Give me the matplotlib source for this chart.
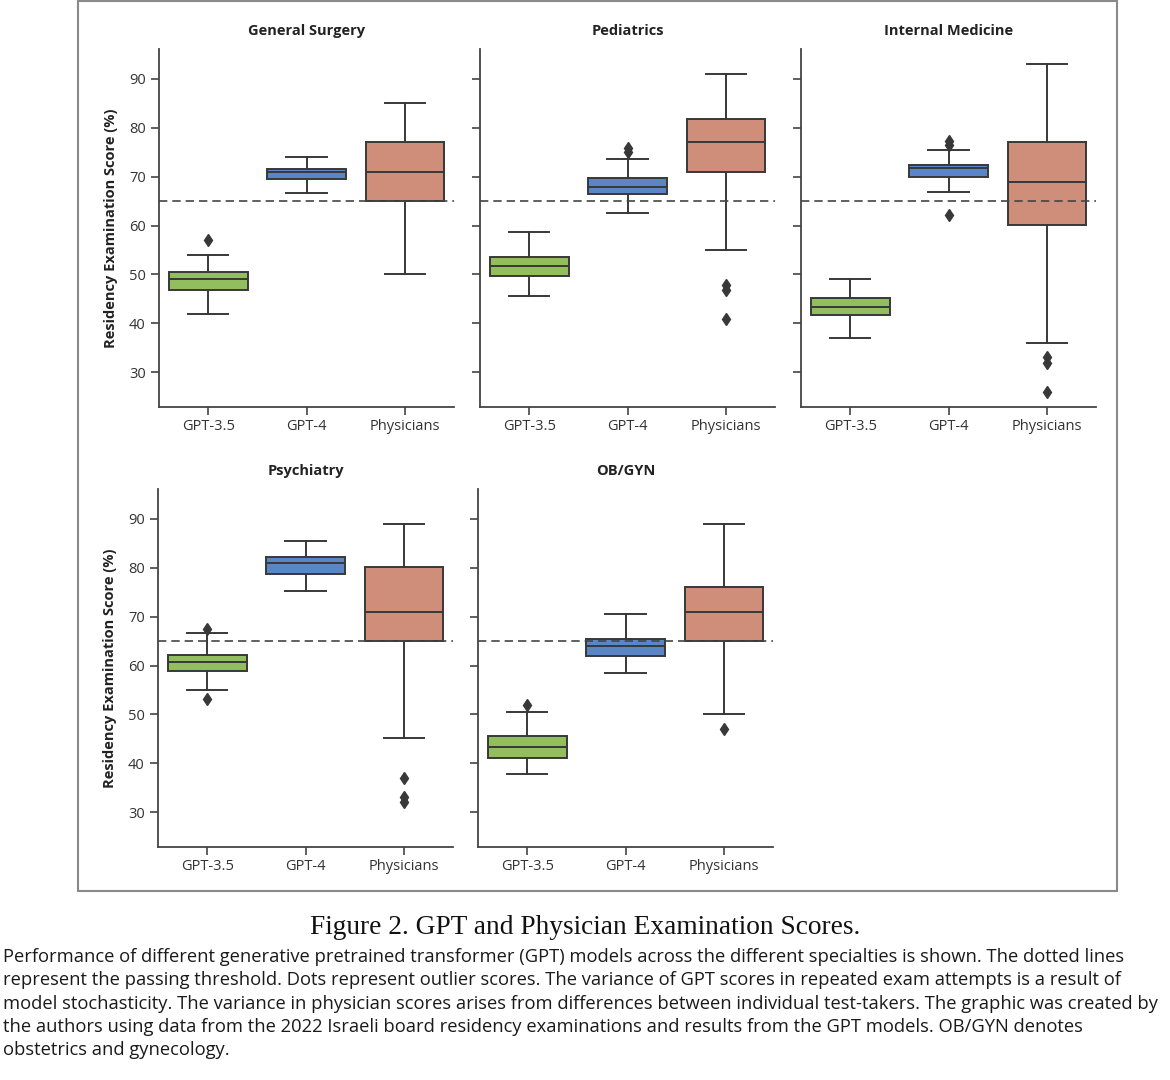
import matplotlib.pyplot as plt
from matplotlib.patches import Rectangle

specialties = ["General Surgery", "Pediatrics", "Internal Medicine", "Psychiatry", "OB/GYN"]
groups = ["GPT-3.5", "GPT-4", "Physicians"]

# summary stats, one row per specialty: [GPT-3.5, GPT-4, Physicians]
whisker_low = [[42.0, 66.7, 50.1], [45.6, 62.6, 55.1], [37.1, 66.9, 36.0], [54.9, 75.3, 45.1], [37.8, 58.4, 50.1]]
q1 = [[46.8, 69.6, 65.0], [49.6, 66.5, 71.0], [41.7, 70.0, 60.1], [58.8, 78.7, 65.1], [41.0, 61.9, 65.1]]
median = [[49.0, 71.0, 71.0], [51.7, 67.8, 77.1], [43.4, 71.8, 68.9], [60.8, 80.9, 71.0], [43.4, 63.9, 71.0]]
q3 = [[50.5, 71.6, 77.1], [53.5, 69.8, 81.7], [45.1, 72.3, 77.0], [62.1, 82.2, 80.2], [45.5, 65.5, 76.0]]
whisker_high = [[54.0, 74.0, 85.1], [58.7, 73.7, 90.9], [49.0, 75.5, 93.1], [66.7, 85.4, 89.0], [50.5, 70.6, 89.0]]
outliers = [
    [[57.1], [], []],
    [[], [75.9, 75.1], [47.8, 46.8, 40.9]],
    [[], [77.2, 76.5, 62.2], [33.1, 31.9, 25.9]],
    [[67.4, 53.2], [], [37.1, 33.1, 32.0]],
    [[51.9], [], [47.0]],
]
passing_threshold = 65

box_colors = ["#93be5e", "#5a86c8", "#cf8e7a"]
line_col = "#383838"

plt.rcParams['font.family'] = ['Open Sans', 'DejaVu Sans']

fig = plt.figure(figsize=(11.7, 10.8), dpi=100)

# outer frame around the panels
fig.patches.append(Rectangle((78 / 1170, 1 - 891 / 1080), (1117 - 78) / 1170, 890 / 1080,
                             transform=fig.transFigure, fill=False, edgecolor="#8a8a8a", lw=1.5))

lefts = [159, 480, 801, 158, 478]
bottoms = [407, 407, 407, 847, 847]
aw, ah = 295, 358

for i, name in enumerate(specialties):
    ax = fig.add_axes([lefts[i] / 1170, 1 - bottoms[i] / 1080, aw / 1170, ah / 1080])
    stats = []
    for j, g in enumerate(groups):
        stats.append(dict(label=g, whislo=whisker_low[i][j], q1=q1[i][j], med=median[i][j],
                          q3=q3[i][j], whishi=whisker_high[i][j], fliers=outliers[i][j]))
    bp = ax.bxp(stats, positions=[0, 1, 2], widths=0.8, patch_artist=True,
                boxprops=dict(edgecolor=line_col, linewidth=1.4),
                medianprops=dict(color=line_col, linewidth=1.4),
                whiskerprops=dict(color=line_col, linewidth=1.4),
                capprops=dict(color=line_col, linewidth=1.4),
                capwidths=0.41,
                flierprops=dict(marker='d', markerfacecolor=line_col, markeredgecolor=line_col,
                                markersize=6.5))
    for patch, c in zip(bp['boxes'], box_colors):
        patch.set_facecolor(c)
    ax.axhline(passing_threshold, color="#444444", lw=1.2, ls=(0, (5, 3)), zorder=5)

    ax.set_xlim(-0.5, 2.5)
    ax.set_ylim(22.9, 96.1)
    ax.set_yticks([30, 40, 50, 60, 70, 80, 90])
    ax.set_xticks([0, 1, 2])
    ax.set_xticklabels(groups)
    for s in ['top', 'right']:
        ax.spines[s].set_visible(False)
    for s in ['left', 'bottom']:
        ax.spines[s].set_color("#444444")
        ax.spines[s].set_linewidth(1.3)
    ax.tick_params(colors="#444444", labelcolor="#333333", labelsize=10.5, length=6, width=1.2)
    ax.tick_params(axis='x', pad=3)
    if i in (0, 3):
        ax.set_ylabel("Residency Examination Score (%)", fontsize=10.5, fontweight='bold',
                      color="#222222", labelpad=8)
    else:
        ax.set_yticklabels([])
    ax.set_title(name, fontsize=10.5, fontweight='bold', color="#222222", pad=10)

fig.text(0.5, 1 - 927 / 1080, "Figure 2. GPT and Physician Examination Scores.",
         family="Liberation Serif", fontsize=19.7, ha='center', va='center', color="#111111")

caption = ("Performance of different generative pretrained transformer (GPT) models across the different specialties is shown. The dotted lines\n"
           "represent the passing threshold. Dots represent outlier scores. The variance of GPT scores in repeated exam attempts is a result of\n"
           "model stochasticity. The variance in physician scores arises from differences between individual test-takers. The graphic was created by\n"
           "the authors using data from the 2022 Israeli board residency examinations and results from the GPT models. OB/GYN denotes\n"
           "obstetrics and gynecology.")
fig.text(3 / 1170, 1 - 948 / 1080, caption, fontsize=13.2, ha='left', va='top',
         color="#1a1a1a", linespacing=1.38)

fig.savefig("out.png", dpi=100, facecolor="white")
